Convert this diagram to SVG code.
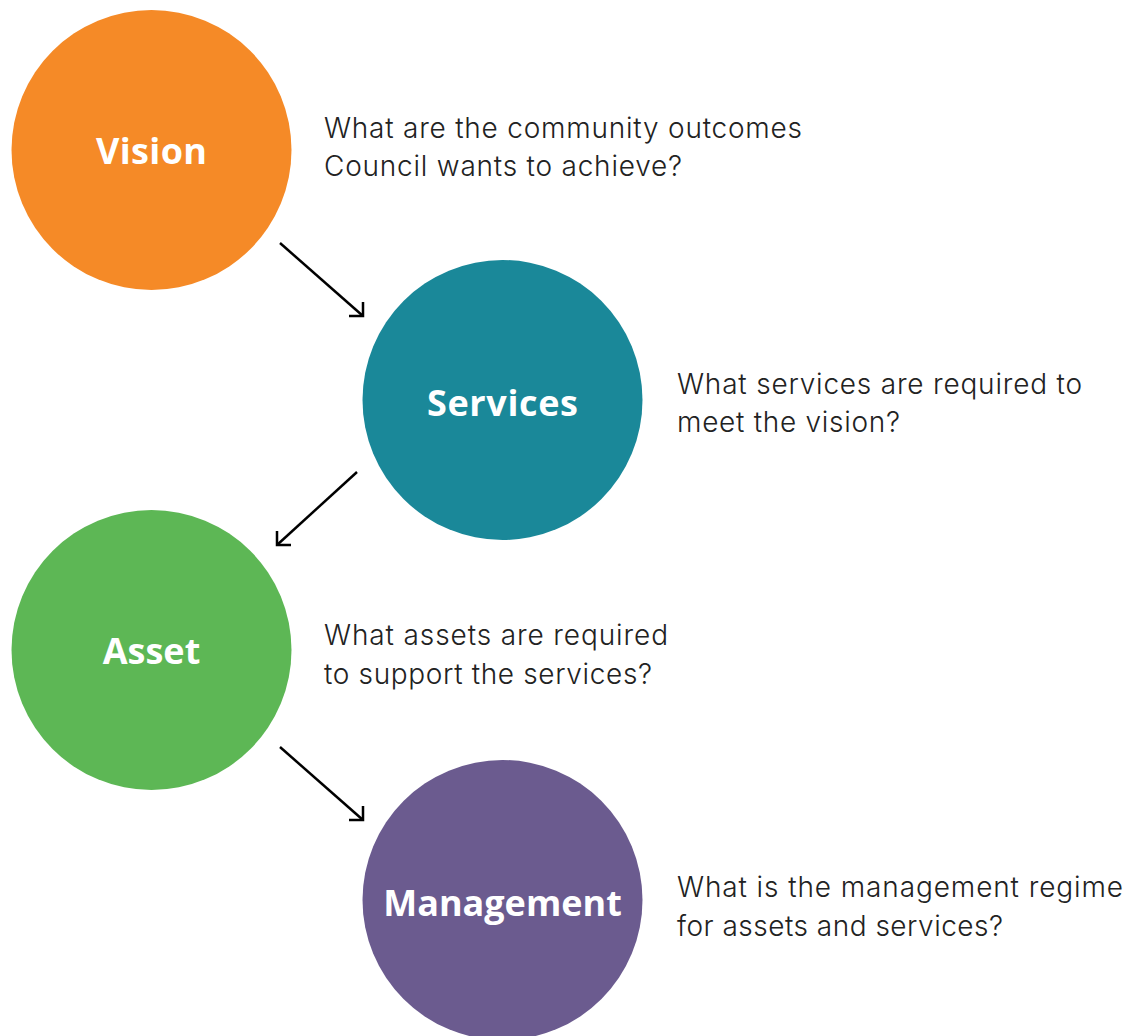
<svg xmlns="http://www.w3.org/2000/svg" width="1132" height="1036" viewBox="0 0 1132 1036">
<defs>
<style>
.lbl{font-family:"Open Sans","Liberation Sans",sans-serif;font-weight:700;font-size:36px;fill:#ffffff;text-anchor:middle}
.q{font-family:Inter,"Open Sans","Liberation Sans",sans-serif;font-weight:300;font-size:28px;fill:#222222}
.arr{stroke:#000000;stroke-width:2.5;fill:none}
</style>
</defs>
<rect width="1132" height="1036" fill="#ffffff"/>
<g id="node-vision">
<circle cx="151.5" cy="150" r="140" fill="#F58A27"/>
<text class="lbl" x="151.5" y="164" textLength="111">Vision</text>
<text class="q" x="324" y="138" textLength="478">What are the community outcomes</text>
<text class="q" x="324" y="176" textLength="358">Council wants to achieve?</text>
</g>
<g id="node-services">
<circle cx="502.5" cy="400" r="140" fill="#1A8899"/>
<text class="lbl" x="502.5" y="416" textLength="151">Services</text>
<text class="q" x="677" y="394" textLength="405">What services are required to</text>
<text class="q" x="677" y="432" textLength="223">meet the vision?</text>
</g>
<g id="node-asset">
<circle cx="151.5" cy="650" r="140" fill="#5DB755"/>
<text class="lbl" x="151.5" y="664">Asset</text>
<text class="q" x="324" y="645" textLength="344">What assets are required</text>
<text class="q" x="324" y="684" textLength="328">to support the services?</text>
</g>
<g id="node-management">
<circle cx="502.5" cy="900" r="140" fill="#6B5B8F"/>
<text class="lbl" x="502.5" y="916">Management</text>
<text class="q" x="677" y="897" textLength="446">What is the management regime</text>
<text class="q" x="677" y="936" textLength="326">for assets and services?</text>
</g>
<g id="connectors">
<path class="arr" d="M280,243 L363,316"/>
<path d="M349,316 L363,316 L363,302" class="arr"/>
<path class="arr" d="M357,472 L277,545"/>
<path d="M277,531 L277,545 L291,545" class="arr"/>
<path class="arr" d="M280,747 L363,820"/>
<path d="M349,820 L363,820 L363,806" class="arr"/>
</g>
</svg>
